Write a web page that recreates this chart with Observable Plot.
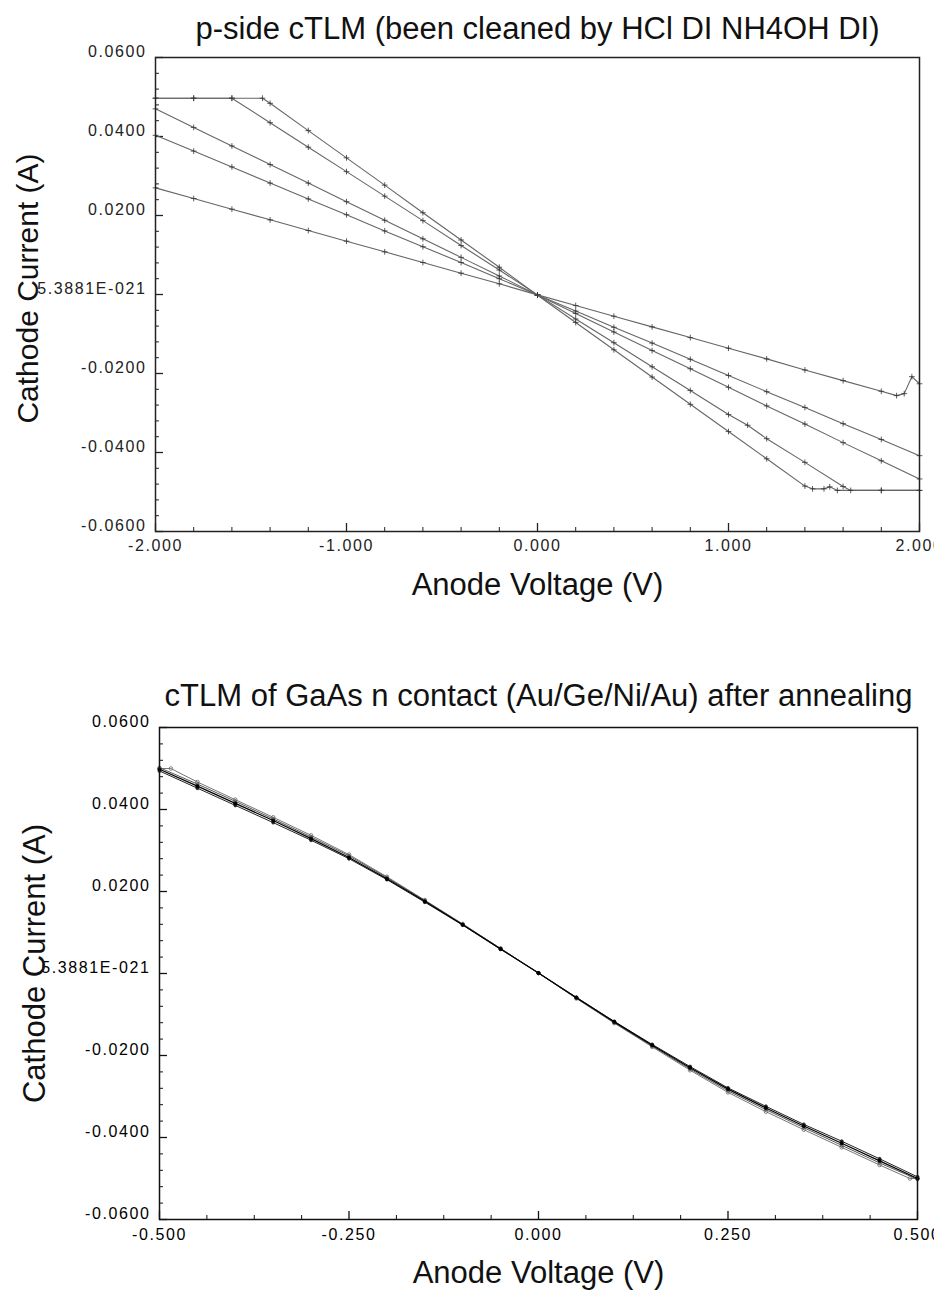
<!DOCTYPE html>
<html>
<head>
<meta charset="utf-8">
<script src="https://cdn.jsdelivr.net/npm/d3@7"></script>
<script src="https://cdn.jsdelivr.net/npm/@observablehq/plot@0.6"></script>
<style>
  html, body { margin: 0; padding: 0; background: #fff; overflow: hidden; }
  #wrap { position: relative; width: 934px; height: 1291px; overflow: hidden; background: #fff; }
  #wrap > div { position: absolute; left: 0; }
  svg text { font-family: "Liberation Sans", Arial, Helvetica, sans-serif; }
</style>
</head>
<body>
<div id="wrap"><div id="p1" style="top:0"></div><div id="p2" style="top:625px"></div></div>
<script>
// ---------- Chart 1: p-side cTLM ----------
const title1 = "p-side cTLM (been cleaned by HCl DI NH4OH DI)";
const xLabel = "Anode Voltage (V)";
const yLabel = "Cathode Current (A)";

const topXTicks = [-2, -1, 0, 1, 2];
const topXTickLabels = ["-2.000", "-1.000", "0.000", "1.000", "2.000"];
const yTicks = [0.06, 0.04, 0.02, 0, -0.02, -0.04, -0.06];
const yTickLabels = ["0.0600", "0.0400", "0.0200", "5.3881E-021", "-0.0200", "-0.0400", "-0.0600"];

const topStepV = [-2.0,-1.8,-1.6,-1.4,-1.2,-1.0,-0.8,-0.6,-0.4,-0.2,0,0.2,0.4,0.6,0.8,1.0,1.2,1.4,1.6,1.8,2.0];

const topA_V = [-2.0,-1.8,-1.6,-1.44,-1.4,-1.2,-1.0,-0.8,-0.6,-0.4,-0.2,0,0.2,0.4,0.6,0.8,1.0,1.2,1.4,1.44,1.50,1.53,1.57,1.8,2.0];
const topA_I = [0.0497,0.0497,0.0497,0.0497,0.0484,0.0415,0.0346,0.0277,0.0207,0.0138,0.0069,-0.0002,-0.0071,-0.0140,-0.0209,-0.0278,-0.0347,-0.0416,-0.0485,-0.0492,-0.0492,-0.0487,-0.0496,-0.0496,-0.0496];

const topB_V = [-2.0,-1.8,-1.6,-1.4,-1.2,-1.0,-0.8,-0.6,-0.4,-0.2,0,0.2,0.4,0.6,0.8,1.0,1.1,1.2,1.4,1.6,1.64,1.8,2.0];
const topB_I = [0.0497,0.0497,0.0497,0.0435,0.0373,0.0311,0.0249,0.0187,0.0124,0.0062,-0.0001,-0.0062,-0.0122,-0.0183,-0.0243,-0.0304,-0.0331,-0.0365,-0.0425,-0.0486,-0.0496,-0.0496,-0.0496];

const topC_I = [0.0470,0.0423,0.0376,0.0329,0.0282,0.0235,0.0188,0.0141,0.0094,0.0047,-0.0001,-0.0048,-0.0095,-0.0142,-0.0188,-0.0235,-0.0282,-0.0328,-0.0375,-0.0421,-0.0467];
const topD_I = [0.0403,0.0363,0.0323,0.0282,0.0242,0.0202,0.0161,0.0121,0.0081,0.0040,-0.0001,-0.0042,-0.0083,-0.0123,-0.0164,-0.0205,-0.0246,-0.0286,-0.0327,-0.0367,-0.0408];

const topE_V = [-2.0,-1.8,-1.6,-1.4,-1.2,-1.0,-0.8,-0.6,-0.4,-0.2,0,0.2,0.4,0.6,0.8,1.0,1.2,1.4,1.6,1.8,1.88,1.92,1.96,2.0];
const topE_I = [0.0270,0.0243,0.0216,0.0189,0.0162,0.0135,0.0108,0.0081,0.0054,0.0027,-0.0001,-0.0028,-0.0055,-0.0082,-0.0109,-0.0136,-0.0163,-0.0191,-0.0218,-0.0245,-0.0256,-0.0251,-0.0208,-0.0226];

// ---------- Chart 2: GaAs n contact ----------
const title2 = "cTLM of GaAs n contact (Au/Ge/Ni/Au) after annealing";
const botXTicks = [-0.5, -0.25, 0, 0.25, 0.5];
const botXTickLabels = ["-0.500", "-0.250", "0.000", "0.250", "0.500"];

const botV = [-0.50,-0.45,-0.40,-0.35,-0.30,-0.25,-0.20,-0.15,-0.10,-0.05,0,0.05,0.10,0.15,0.20,0.25,0.30,0.35,0.40,0.45,0.50];
const bot1_I = [0.0498,0.0457,0.0415,0.0373,0.0329,0.0283,0.0231,0.0176,0.0119,0.0060,0.0001,-0.0059,-0.0118,-0.0175,-0.0230,-0.0282,-0.0328,-0.0372,-0.0414,-0.0457,-0.0500];
const bot3_I = [0.0494,0.0452,0.0410,0.0368,0.0325,0.0280,0.0229,0.0174,0.0118,0.0059,0.0001,-0.0058,-0.0117,-0.0173,-0.0227,-0.0279,-0.0324,-0.0368,-0.0409,-0.0452,-0.0496];
const bot4_I = [0.0502,0.0462,0.0420,0.0377,0.0333,0.0287,0.0234,0.0178,0.0120,0.0061,0.0001,-0.0060,-0.0120,-0.0177,-0.0233,-0.0286,-0.0332,-0.0376,-0.0419,-0.0462,-0.0502];
const bot2_V = [-0.50,-0.485,-0.45,-0.40,-0.35,-0.30,-0.25,-0.20,-0.15,-0.10,-0.05,0,0.05,0.10,0.15,0.20,0.25,0.30,0.35,0.40,0.45,0.49,0.50];
const bot2_I = [0.0500,0.0500,0.0467,0.0424,0.0381,0.0337,0.0290,0.0236,0.0179,0.0121,0.0061,0.0001,-0.0061,-0.0121,-0.0179,-0.0236,-0.0290,-0.0337,-0.0381,-0.0424,-0.0467,-0.0500,-0.0500];

const FONT = "'Liberation Sans', Arial, Helvetica, sans-serif";

function series(name, V, I) { return V.map((v, i) => ({name, v, i: I[i]})); }

function makeChart(cfg) {
  const fw = cfg.width - cfg.ml - cfg.mr;
  const fh = cfg.height - cfg.mt - cfg.mb;
  const marks = [];
  // minor & major inward ticks
  marks.push(Plot.tickX(cfg.xMinor, {x: d => d, insetTop: fh - 4, stroke: cfg.axisColor, strokeWidth: 1}));
  marks.push(Plot.tickX(cfg.xTicks, {x: d => d, insetTop: fh - 8, stroke: cfg.axisColor, strokeWidth: 1.3}));
  marks.push(Plot.tickY(cfg.yMinor, {y: d => d, insetRight: fw - 4, stroke: cfg.axisColor, strokeWidth: 1}));
  marks.push(Plot.tickY(cfg.yTicks, {y: d => d, insetRight: fw - 8, stroke: cfg.axisColor, strokeWidth: 1.3}));
  // data
  for (const s of cfg.series) {
    marks.push(Plot.line(s.data, {x: "v", y: "i", stroke: s.stroke, strokeWidth: s.sw}));
    marks.push(Plot.dot(s.data, {x: "v", y: "i", r: s.r, symbol: s.symbol, stroke: s.mstroke, fill: s.mfill, strokeWidth: 0.8}));
  }
  marks.push(Plot.frame({stroke: cfg.axisColor, strokeWidth: 1.5}));
  // axes labels
  marks.push(Plot.axisX({ticks: cfg.xTicks, tickSize: 0, tickPadding: cfg.xPad, fontSize: 16, fill: cfg.textColor, fontFamily: FONT,
    tickFormat: d => cfg.xTickLabels[cfg.xTicks.indexOf(d)], label: null}));
  marks.push(Plot.axisY({ticks: cfg.yTicks, tickSize: 0, tickPadding: 9, fontSize: 16, fill: cfg.textColor, dy: -6, fontFamily: FONT,
    tickFormat: d => yTickLabels[cfg.yTicks.indexOf(d)], label: null}));
  // titles
  marks.push(Plot.text([cfg.title], {text: d => d, frameAnchor: "top", lineAnchor: "bottom", textAnchor: "middle", dy: cfg.titleDy, fontSize: 31, fill: "#111", fontFamily: FONT}));
  marks.push(Plot.text([xLabel], {text: d => d, frameAnchor: "bottom", lineAnchor: "bottom", textAnchor: "middle", dy: cfg.xLabelDy, fontSize: 31, fill: "#111", fontFamily: FONT}));
  marks.push(Plot.text([yLabel], {text: d => d, frameAnchor: "left", rotate: -90, lineAnchor: "middle", textAnchor: "middle", dx: cfg.yLabelDx, dy: cfg.yLabelDy, fontSize: cfg.yLabelSize, fill: "#111", fontFamily: FONT}));

  const svg = Plot.plot({
    width: cfg.width, height: cfg.height,
    marginLeft: cfg.ml, marginRight: cfg.mr, marginTop: cfg.mt, marginBottom: cfg.mb,
    style: {fontFamily: FONT, background: "#fff", overflow: "visible"},
    x: {domain: cfg.xDomain, axis: null},
    y: {domain: [-0.06, 0.06], axis: null},
    marks
  });
  d3.select(svg).selectAll('g[aria-label$="tick label"] text').attr("letter-spacing", "1.6");
  return svg;
}

const chart1 = makeChart({
  width: 934, height: 625, ml: 155, mr: 15, mt: 57, mb: 94,
  xDomain: [-2, 2], xTicks: topXTicks, xTickLabels: topXTickLabels,
  xMinor: d3.range(-2, 2.0001, 0.2).filter(v => Math.abs(v - Math.round(v)) > 1e-6),
  yTicks: yTicks, yMinor: d3.range(-0.06, 0.06001, 0.004).filter(v => Math.abs(v / 0.02 - Math.round(v / 0.02)) > 1e-6),
  axisColor: "#222", textColor: "#222", xPad: 8,
  title: title1, titleDy: -19, xLabelDy: 63, yLabelDx: -127, yLabelDy: -6, yLabelSize: 30,
  series: [
    {data: series("A", topA_V, topA_I), stroke: "#666", sw: 1.1, r: 2, symbol: "plus", mstroke: "#333", mfill: "none"},
    {data: series("B", topB_V, topB_I), stroke: "#666", sw: 1.1, r: 2, symbol: "plus", mstroke: "#333", mfill: "none"},
    {data: series("C", topStepV, topC_I), stroke: "#666", sw: 1.1, r: 2, symbol: "plus", mstroke: "#333", mfill: "none"},
    {data: series("D", topStepV, topD_I), stroke: "#666", sw: 1.1, r: 2, symbol: "plus", mstroke: "#333", mfill: "none"},
    {data: series("E", topE_V, topE_I), stroke: "#666", sw: 1.1, r: 2, symbol: "plus", mstroke: "#333", mfill: "none"}
  ]
});
document.getElementById("p1").appendChild(chart1);

const chart2 = makeChart({
  width: 934, height: 666, ml: 159, mr: 17, mt: 102, mb: 72,
  xDomain: [-0.5, 0.5], xTicks: botXTicks, xTickLabels: botXTickLabels,
  xMinor: d3.range(-0.5, 0.50001, 0.0625).filter(v => Math.abs(v / 0.25 - Math.round(v / 0.25)) > 1e-6),
  yTicks: yTicks, yMinor: d3.range(-0.06, 0.06001, 0.004).filter(v => Math.abs(v / 0.02 - Math.round(v / 0.02)) > 1e-6),
  axisColor: "#111", textColor: "#000", xPad: 9,
  title: title2, titleDy: -22, xLabelDy: 63, yLabelDx: -124, yLabelDy: -10, yLabelSize: 31,
  series: [
    {data: series("c2", bot2_V, bot2_I), stroke: "#777", sw: 1, r: 1.8, symbol: "circle", mstroke: "#666", mfill: "none"},
    {data: series("c4", botV, bot4_I), stroke: "#555", sw: 1, r: 1.5, symbol: "circle", mstroke: "#555", mfill: "#888"},
    {data: series("c3", botV, bot3_I), stroke: "#222", sw: 1, r: 1.5, symbol: "circle", mstroke: "#222", mfill: "#222"},
    {data: series("c1", botV, bot1_I), stroke: "#000", sw: 1.2, r: 1.6, symbol: "circle", mstroke: "#000", mfill: "#000"}
  ]
});
document.getElementById("p2").appendChild(chart2);
</script>
</body>
</html>
